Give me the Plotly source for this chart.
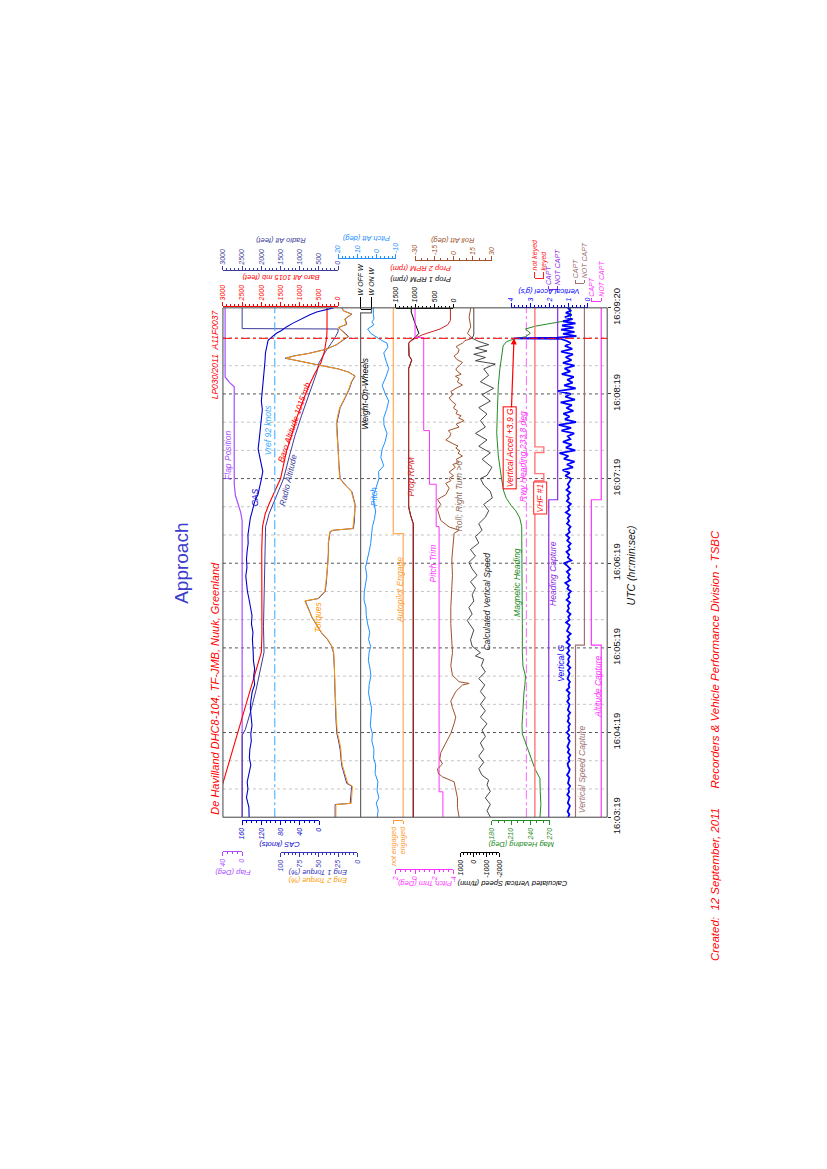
import plotly.graph_objects as go

# ---------------- values (t = seconds after 16:03:19) ----------------
TIME_TICKS = [0, 60, 120, 180, 240, 300, 361]
TIME_LABELS = ["16:03:19", "16:04:19", "16:05:19", "16:06:19", "16:07:19", "16:08:19", "16:09:20"]
EVENT_T = 339.4          # Vertical Accel +3.9 G
EVENT_G = 3.85
VREF_KT = 92
RWY_HDG = 233.8

BARO_ALT = [(0, 3260), (24, 3000), (40, 2830), (60, 2610), (90, 2290), (117, 2000), (130, 1985), (150, 1992),
            (170, 1996), (190, 1990), (206, 1970), (215, 1900), (222, 1800), (230, 1660), (240, 1500), (250, 1420),
            (260, 1340), (270, 1220), (283, 1080), (295, 920), (306, 760), (315, 600), (322, 450), (330, 360),
            (336, 316), (340, 300), (345, 292), (361, 290)]
RADIO_ALT = [(0, 2500), (58, 2500), (62, 2420), (75, 2280), (90, 2140), (105, 2030), (117, 1930), (135, 1945),
             (155, 1930), (175, 1925), (195, 1915), (206, 1890), (215, 1800), (225, 1650), (240, 1420), (255, 1280),
             (270, 1130), (285, 950), (300, 760), (315, 560), (322, 500), (330, 330), (336, 180), (340, 80),
             (344, 5), (346, 0), (346.3, 2500), (361, 2500)]
CAS_KT = [(0, 145.5), (7, 146), (14, 151), (20, 148), (25, 149.5), (31, 145), (37, 142), (42, 145), (48, 144),
          (54, 141), (59, 142), (65, 139.5), (71, 141), (77, 143), (82, 142), (89, 139), (94, 134), (100, 136),
          (105, 134), (111, 136.5), (117, 137), (126, 138.6), (131, 137.5), (137, 140.6), (143, 139.5), (149, 142),
          (155, 146), (160, 149), (166, 151), (171, 152.4), (177, 150), (183, 151), (189, 149.5), (194, 147.5),
          (200, 148), (206, 146), (212, 143), (217, 139), (224, 133.7), (229, 126.8), (234, 123), (240, 119.8),
          (245, 117), (249, 119.8), (255, 123), (261, 126.8), (266, 125), (272, 123), (278, 121), (284, 120),
          (289, 118), (295, 120), (300, 118.5), (306, 116.4), (312, 115), (318, 113), (323, 112.5), (329, 111.5),
          (334, 109), (338, 106), (341, 96), (343, 88.6), (345, 78), (347.5, 67.9), (350, 55), (352, 43.6),
          (354, 33), (356, 20), (358, 5), (361, -30)]
FLAP_DEG = [(0, 0), (210, 0), (216, 3), (222, 9), (228, 14), (236, 16.5), (305, 16.5), (308, 26), (312, 35.5),
            (361, 35.5)]
TORQUE_ENG1 = [(0, 29), (9, 29), (9.8, 9.5), (16, 8.5), (22, 7.4), (24, 13.9), (30, 17), (36.6, 20.4), (42, 21.5),
               (48, 22.5), (54, 24.5), (59.4, 26.8), (70, 28), (82, 29), (94, 29.5), (105, 29.9), (116.6, 31.2),
               (121, 33.3), (126, 39), (130.3, 46.3), (136, 53), (141.7, 59.3), (147, 63), (150.9, 65.8),
               (153.2, 67.9), (155, 50.6), (160, 42), (166, 40.5), (171.4, 39.8), (177, 38.5), (182.9, 37.7),
               (189, 37.5), (194.3, 37.7), (202.3, 35.5), (203.4, 31.2), (204.6, 5.2), (210, 4), (217, 3),
               (221.7, 3), (226, 5), (230.9, 7.4), (235, 15), (240, 22.5), (250, 24), (260.6, 24.7), (270, 26),
               (279, 26.9), (285, 25), (290.3, 22.5), (297.2, 16), (303, 11), (308.6, 7.4), (312.7, 3),
               (315.5, 11.7), (317.7, 24.7), (320.5, 50.6), (322.5, 68), (324.1, 81), (325.3, 94), (326.9, 83),
               (328.7, 63.6), (331.5, 42), (334.9, 26.9), (338.3, 18.2), (340.6, 11.7), (343, 16), (345.2, 20.4),
               (347, 24.7), (349.3, 13.9), (351, 15), (353.2, 16), (356.6, 7.4), (358.9, 18.2), (361, 20)]
TORQUE_ENG2 = [(0, 28), (9, 28), (9.8, 8), (16, 7.5), (22, 6.5), (24, 12.5), (30, 16), (36.6, 19.5), (42, 21),
               (48, 21.5), (54, 23.5), (59.4, 26), (70, 27.5), (82, 28.5), (94, 29), (105, 29.5), (116.6, 30.8),
               (121, 33), (126, 38.5), (130.3, 46), (136, 52.5), (141.7, 59), (147, 63.5), (150.9, 66.5),
               (153.2, 68.5), (155, 51.5), (160, 42.5), (166, 41), (171.4, 40), (177, 39), (182.9, 38),
               (189, 38), (194.3, 38), (202.3, 36), (203.4, 32), (204.6, 6), (210, 4.5), (217, 3.5),
               (221.7, 3.5), (226, 5.5), (230.9, 8), (235, 15.5), (240, 23), (250, 24.5), (260.6, 25), (270, 26.5),
               (279, 27.5), (285, 25.5), (290.3, 23), (297.2, 16.5), (303, 11.5), (308.6, 8), (312.7, 3.5),
               (315.5, 12), (317.7, 25), (320.5, 51), (322.5, 69), (324.1, 82), (325.3, 93), (326.9, 82),
               (328.7, 63), (331.5, 41), (334.9, 27.5), (338.3, 19), (340.6, 12.5), (343, 17), (345.2, 21),
               (347, 25), (349.3, 14.5), (351, 15.5), (353.2, 16.5), (356.6, 8), (358.9, 18.5), (361, 20.5)]
PITCH_ATT = [(0, -0.3), (5, -0.8), (10, 0.2), (13.7, -1.2), (19, -0.2), (25, -0.7), (31, 0.8), (37, 0.5),
             (42, 1.6), (48, 1.4), (54, 2.5), (59, 2.2), (65, 3.3), (71, 3.1), (77, 2.6), (82, 3.4), (88, 4.2),
             (94, 3.9), (100, 3.0), (105, 3.4), (111, 4.3), (117, 3.9), (121, 3.1), (126, 4.2), (131, 3.6),
             (137, 4.7), (143, 5.4), (149, 5.6), (154, 6.6), (160, 6.4), (166, 5.6), (171, 5.1), (177, 5.8),
             (183, 4.7), (189, 3.8), (194, 3.1), (200, 2.6), (206, 2.2), (211, 1.2), (217, 0.5), (223, 1.6),
             (229, 1.4), (234, 0.2), (240, -1.2), (245, -1.0), (249, -3.7), (255, -2.2), (261, -2.9), (266, -4.4),
             (272, -5.4), (278, -3.8), (283, -3.7), (289, -5.2), (295, -6.3), (300, -4.5), (306, -2.9),
             (312, -4.8), (318, -6.3), (323, -5.0), (329, -3.7), (333, -5.8), (336, -5.4), (338, -2.5),
             (340, -0.3), (343, 3.1), (346, 4.7), (349, 1.4), (351, 2.5), (353, 1.4), (357, 1.7), (361, 1.7)]
WOW_STATE = [(0, 1), (357.5, 0), (361, 0)]            # 1 = W OFF W, 0 = W ON W
AP_STATE = [(0, 1), (201, 0), (361, 0)]               # 1 = engaged, 0 = not engaged
PROP1_RPM = [(0, 1045), (208, 1045), (214, 1115), (220, 1165), (318, 1165), (321, 1115), (324, 1085),
             (327, 1155), (336, 1165), (338, 1100), (340, 1000), (343, 900), (346, 950), (350, 1000),
             (354, 1050), (358, 1100), (361, 1100)]
PROP2_RPM = [(0, 1050), (208, 1050), (214, 1120), (220, 1170), (318, 1170), (321, 1120), (324, 1090),
             (327, 1160), (336, 1170), (338, 1080), (340, 960), (342, 800), (344, 600), (346, 350),
             (349, 150), (352, 80), (361, 80)]
PITCH_TRIM = [(0, -2.9), (18, -2.5), (206, -2.2), (236, -1.5), (274, -0.9), (340, 0.0), (361, 0.0)]
ROLL_ATT = [(0, 4.4), (6.9, 3.1), (13.7, 3.1), (20.6, 1.8), (25.1, 0.5), (28.6, -8.6), (30.9, -11.7),
            (34.3, -12.5), (37.7, -8.6), (41.1, -10.7), (45.7, -9.9), (52.6, -6), (59.4, -2.1), (66.3, 0.5),
            (70.9, 1.8), (77.7, -0.8), (82.3, -2.1), (89.1, 1.8), (93.7, 7), (94.8, 12.2), (96, 4.4),
            (100.6, -0.8), (107.4, -2.1), (116.6, -0.8), (125.7, -1.3), (137.1, -2.1), (148.6, -2.1),
            (160, -1.3), (171.4, -0.8), (182.9, -1.3), (194.3, -0.3), (201.2, 0.5), (203.4, 4.4),
            (205.7, -3.4), (210.3, -9.9), (214.9, -11.2), (218.3, -12.5), (221.7, -9.9), (225.2, -12.5),
            (228.6, -6), (233.2, -3.4), (236.6, -6), (238.5, -2), (240, -3.5), (242, 0), (244.6, -3.4),
            (246.5, -1), (248, 1.5), (250, -0.5), (251.4, 4.4), (253.5, 2), (256, 7), (258, 3.5), (259.5, 5),
            (261.7, 1.8), (263, 3.5), (265, -1), (267.4, -6), (269.5, -3), (272, -2.1), (274, -4), (276.5, 4.4),
            (278.5, 2), (281.1, 8.3), (283, 4), (284.5, 6), (286, 2), (288, 3.1), (290, 0), (292.6, 1.8),
            (294.5, -1), (297.2, -3.4), (299.5, -0.5), (301.7, -2.1), (304, 2), (306.3, 7), (308.5, 3),
            (310.9, 4.4), (312.5, 1.5), (314, 6), (316, 3), (317.7, 1.8), (320, 4.5), (322.3, 7), (324.5, 2.5),
            (326.9, 0.5), (329, 3.5), (331.5, 4.4), (333.5, 2), (336, 7), (337.8, 9), (339.5, 14.8),
            (342.9, 10.9), (347.5, 13.5), (354.3, 12.2), (361, 13.5)]
CALC_VS = [(0, -1308), (4.6, -1050), (9.1, -1308), (13.7, -923), (18.3, -1308), (22.9, -1050), (26.3, -1180),
           (29.7, -667), (34.3, -410), (38.9, -795), (43.4, -410), (48, -795), (52.6, -538), (57.1, -923),
           (61.7, -667), (66.3, -1050), (70.9, -538), (75.4, -923), (80, -538), (84.6, -923), (89.1, -538),
           (93.7, -872), (98.3, -410), (102.9, -923), (107.4, -615), (112, -795), (114.3, -154), (116.6, -538),
           (121.2, 103), (125.7, 231), (132.6, -25), (139.4, 487), (144, 103), (148.6, 359), (153.2, -25),
           (157.7, 103), (162.3, -154), (166.9, 231), (171.4, -282), (176, 103), (180.6, 359), (185.1, -154),
           (189.7, 231), (194.3, -410), (198.9, -154), (203.4, -667), (208, -410), (212.6, -923),
           (217.2, -1180), (221.7, -795), (226.3, -1462), (230.9, -1308), (235.4, -795), (240, -538),
           (242.3, -1050), (248, -1436), (253.7, -667), (258.3, -1308), (262.9, -410), (267.4, -1050),
           (272, -154), (276.5, -923), (281.1, -538), (285.7, -1050), (290.3, -410), (294.9, -1308),
           (299.4, -667), (304, -1564), (308.6, -538), (313.2, -1180), (317.7, -795), (321.2, -1692),
           (323.5, -154), (325.8, -923), (328.1, -25), (330.4, -1050), (332.6, -154), (334.9, -1180),
           (337.2, -410), (339.5, 103), (341.8, -25), (361, -25)]
MAG_HDG = [(0, 255), (9, 256.5), (18, 255.5), (27.4, 255), (34, 247.5), (43, 240), (52, 232.5), (59, 227.5),
           (65, 227), (71, 227.5), (82, 228.5), (88, 230), (94, 231.5), (100, 232.5), (107, 228.5),
           (117, 227.5), (137, 227.5), (160, 227.5), (183, 226.5), (200, 227.5), (206, 226.5), (212, 223.5),
           (217, 217.5), (221, 210), (226, 202.5), (231, 198.5), (240, 195), (256, 190), (272, 187.5),
           (288, 188.5), (306, 190), (318, 192.5), (329, 196.5), (334, 197.5), (337, 202.5), (339, 215),
           (340.5, 232.5), (343, 240), (346, 232.5), (348, 247.5), (350, 272.5), (352, 297.5), (354, 302.5),
           (361, 302.5)]
VHF1_KEY = [(0, 0), (238.5, 1), (243.5, 0), (258.5, 1), (262.5, 0), (361, 0)]    # 1 = keyed
VG_STEP = 2
VG_G = [1.03, 0.97, 1.06, 0.99, 0.94, 1.05, 1.01, 0.96, 1.08, 0.98,
        1.02, 0.93, 1.04, 1.00, 0.97, 1.09, 0.99, 0.95, 1.03, 1.06,
        0.96, 1.01, 0.92, 1.05, 0.98, 1.07, 1.00, 0.95, 1.04, 0.97,
        1.10, 0.98, 1.02, 0.94, 1.06, 0.99, 1.03, 0.93, 1.05, 1.00,
        0.96, 1.08, 0.98, 1.03, 0.95, 1.11, 0.97, 1.01, 0.94, 1.06,
        1.00, 0.96, 1.04, 0.92, 1.07, 0.99, 1.03, 0.95, 1.09, 0.98,
        1.04, 0.94, 1.12, 0.97, 1.06, 0.90, 1.09, 1.00, 0.95, 1.14,
        0.96, 1.03, 0.91, 1.08, 0.99, 1.05, 0.93, 1.11, 0.97, 1.02,
        0.89, 1.07, 1.00, 1.18, 0.93, 1.04, 0.96, 1.10, 0.92, 1.06,
        1.24, 0.87, 1.05, 0.98, 1.12, 0.94, 1.03, 0.90, 1.08, 0.97,
        1.13, 0.95, 1.01, 0.91, 1.09, 0.98, 1.06, 0.93, 1.15, 0.96,
        1.04, 0.89, 1.10, 0.99, 1.07, 0.92, 1.12, 0.97, 1.05, 0.94,
        0.88, 1.18, 0.95, 1.32, 0.78, 1.10, 0.70, 1.25, 1.02, 1.48,
        0.66, 1.15, 0.85, 1.30, 0.92, 1.05, 0.72, 1.38, 0.88, 1.52,
        0.62, 1.20, 0.96, 1.28, 0.76, 1.12, 0.84, 1.42, 0.68, 1.18,
        0.90, 1.56, 0.64, 1.24, 0.80, 1.08, 0.74, 1.36, 0.92, 1.22,
        0.70, 1.30, 0.86, 1.16, 0.78, 1.40, 0.82, 1.20, 0.90]
VG_G_LANDING = [(337.5, 1.1), (339, 1.4), (339.4, 3.85), (339.8, 1.6), (341, 0.6), (342.5, 1.3), (344, 0.7),
                (345.5, 1.4), (347, 0.75), (348.5, 1.35), (350, 0.65), (351.5, 1.3), (353, 0.8), (354.5, 1.2),
                (356, 0.85), (357.5, 1.15), (359, 0.9), (361, 1.05)]
HDG_CAPT = [(0, 1), (225, 0), (361, 0)]    # 1 = CAPT
VS_CAPT = [(0, 1), (122, 0), (361, 0)]
ALT_CAPT = [(0, 0), (122, 1), (225, 0), (361, 0)]

WOW_LABELS = ["W OFF W", "W ON W"]
AP_LABELS = ["not engaged", "engaged"]
VHF_LABELS = ["not keyed", "keyed"]
CAPT_LABELS = ["CAPT", "NOT CAPT"]

# ---------------- geometry ----------------
FONT = "Liberation Sans, Arial, sans-serif"
W, H = 827, 1169
FX0, FX1, FY0, FY1 = 213.0, 601.0, 289.0, 815.0
T_END = 361.0
DIV = (FX1 - FX0) / 20.0


def fx(p):
    return p / W


def fy(p):
    return 1.0 - p / H


def dv(d):
    return FX0 + DIV * d


# scale definitions: (value_a, px_a, value_b, px_b)
SC = {
    'flap': (40, dv(0), 0, dv(1)),
    'alt': (3000, dv(0), 0, dv(6)),
    'cas': (160, dv(1), 0, dv(5)),
    'torque': (100, dv(3), 0, dv(7)),
    'pitch': (20, dv(6), -10, dv(9)),
    'wow': (1, 352, 0, 363),
    'ap': (0, 385, 1, 395),
    'prop': (1500, dv(9), 0, dv(12)),
    'trim': (2, dv(9), -4, dv(12)),
    'roll': (-30, dv(10), 30, dv(14)),
    'vs': (1000, 453, -2000, 492),
    'hdg': (180, dv(14), 270, dv(17)),
    'vhf': (0, 528, 1, 537),
    'hdgcap': (1, 542, 0, 551),
    'vscap': (1, 569, 0, 578),
    'altcap': (1, 585, 0, 595),
    'vg': (4, dv(15), 0, dv(19)),
}
ORDER = ['flap', 'alt', 'cas', 'torque', 'pitch', 'wow', 'ap', 'prop', 'trim', 'roll', 'vs', 'hdg', 'vhf',
         'hdgcap', 'vscap', 'altcap', 'vg']
AXES = {k: 'x%d' % (i + 2) for i, k in enumerate(ORDER)}


def val_at(key, px):
    va, pa, vb, pb = SC[key]
    return va + (px - pa) * (vb - va) / (pb - pa)


fig = go.Figure()
layout = dict(width=W, height=H, margin=dict(l=0, r=0, t=0, b=0), paper_bgcolor='white',
              plot_bgcolor='rgba(0,0,0,0)', showlegend=False, font=dict(family=FONT))

FRAME_DOM = [fx(FX0), fx(FX1)]
layout['xaxis'] = dict(domain=FRAME_DOM, range=[0, 20], tickmode='linear', tick0=0, dtick=1,
                       showgrid=True, gridcolor='#b8b8b8', griddash='dot', gridwidth=1, showticklabels=False,
                       ticks='', zeroline=False, showline=False, anchor='y', fixedrange=True)
layout['yaxis'] = dict(domain=[fy(FY1), fy(FY0)], range=[0, T_END], anchor='x', side='right',
                       tickmode='array', tickvals=TIME_TICKS, ticktext=TIME_LABELS, tickangle=-90,
                       ticks='outside', ticklen=3, tickcolor='#333', ticklabelstandoff=-3,
                       tickfont=dict(family=FONT, size=9.5, color='#111'),
                       showgrid=False, zeroline=False, showline=False, fixedrange=True)
layout['yaxis2'] = dict(domain=[fy(FY1), fy(FY0)], range=[0, 1], visible=False, anchor='free', position=0,
                        fixedrange=True)
for k in ORDER:
    layout['xaxis' + AXES[k][1:]] = dict(overlaying='x', anchor='y', domain=FRAME_DOM,
                                         range=[val_at(k, FX0), val_at(k, FX1)],
                                         visible=False, fixedrange=True)


def add_series(key, data, color, width=1.0, shape='linear', dash='solid'):
    t = [a for a, b in data]
    v = [b for a, b in data]
    fig.add_trace(go.Scatter(x=v, y=t, xaxis=AXES[key], yaxis='y', mode='lines',
                             line=dict(color=color, width=width, shape=shape, dash=dash),
                             hoverinfo='skip', showlegend=False))


# ---------------- data traces ----------------
add_series('flap', FLAP_DEG, '#a64dff', 1.2)
add_series('alt', RADIO_ALT, '#3c3c9c', 1.0)
add_series('alt', BARO_ALT, '#ff0000', 1.1)
add_series('cas', [(0, VREF_KT), (T_END, VREF_KT)], '#33aaff', 1.0, dash='dashdot')
add_series('cas', CAS_KT, '#0000cc', 1.1)
add_series('torque', TORQUE_ENG1, '#3333bb', 1.0)
add_series('torque', TORQUE_ENG2, '#ff9900', 1.0)
add_series('pitch', PITCH_ATT, '#1e90ff', 1.0)
add_series('wow', WOW_STATE, '#666666', 1.2, shape='vh')
add_series('ap', AP_STATE, '#ffaa55', 1.2, shape='vh')
add_series('prop', PROP1_RPM, '#000000', 1.0)
add_series('prop', PROP2_RPM, '#cc2222', 1.0)
add_series('trim', PITCH_TRIM, '#ff33ff', 1.0, shape='vh')
add_series('roll', ROLL_ATT, '#a0522d', 1.0)
add_series('vs', CALC_VS, '#333333', 0.9)
add_series('hdg', [(0, RWY_HDG), (T_END, RWY_HDG)], '#ff66ff', 1.0, dash='dashdot')
add_series('hdg', MAG_HDG, '#228b22', 1.0)
add_series('vhf', VHF1_KEY, '#ff7777', 1.4, shape='vh')
add_series('hdgcap', HDG_CAPT, '#8a2be2', 1.2, shape='vh')
add_series('vscap', VS_CAPT, '#a07070', 1.2, shape='vh')
add_series('altcap', ALT_CAPT, '#ff33ff', 1.2, shape='vh')
vg_pairs = [(i * VG_STEP, g) for i, g in enumerate(VG_G)] + VG_G_LANDING
add_series('vg', vg_pairs, '#0000ff', 1.8)

# ---------------- scale rulers ----------------
scale_n = [19]


def add_scale(key, pa, pb, pos, side, color, dtick=None, minor=None, tickvals=None, ticktext=None,
              ticklen=4, size=7):
    n = scale_n[0]
    scale_n[0] += 1
    ax = dict(domain=[fx(pa), fx(pb)], range=[val_at(key, pa), val_at(key, pb)], anchor='free',
              position=fy(pos), side=side, showline=True, linecolor=color, linewidth=1, ticks='outside',
              ticklen=ticklen, tickwidth=1, tickcolor=color, tickangle=-90,
              tickfont=dict(family=FONT, size=size, color=color, style='italic'),
              showgrid=False, zeroline=False, fixedrange=True)
    if tickvals is not None:
        ax.update(tickmode='array', tickvals=tickvals, ticktext=ticktext)
    else:
        ax.update(tickmode='linear', tick0=0, dtick=dtick)
    if minor:
        ax['minor'] = dict(ticks='outside', ticklen=2, tickcolor=color, tickwidth=1, tickmode='linear',
                           dtick=minor, tick0=0, showgrid=False)
    layout['xaxis%d' % n] = ax
    fig.add_trace(go.Scatter(x=[None], y=[None], xaxis='x%d' % n, yaxis='y2', mode='lines',
                             hoverinfo='skip', showlegend=False))


# top
add_scale('alt', dv(0), dv(6), 287, 'top', '#ff0000', dtick=500, minor=100)
add_scale('alt', dv(0), dv(6), 250, 'top', '#3c3c9c', dtick=500, minor=100)
add_scale('pitch', dv(6), dv(9), 238, 'top', '#1e90ff', minor=2,
          tickvals=[20, 10, 0, -10], ticktext=['20', '10', '0', '-10'])
add_scale('wow', 352, 363, 290, 'top', '#000000', tickvals=[1, 0], ticktext=WOW_LABELS, ticklen=12)
add_scale('prop', dv(9), dv(12), 289, 'top', '#000000', dtick=500, minor=100)
add_scale('roll', dv(10), dv(14), 240, 'top', '#a0522d', minor=5,
          tickvals=[-30, -15, 0, 15, 30], ticktext=['-30', '-15', '0', '15', '30'])
add_scale('vhf', 528, 537, 258, 'top', '#ff2020', tickvals=[0, 1], ticktext=VHF_LABELS, ticklen=6)
add_scale('hdgcap', 542, 551, 270, 'top', '#8a2be2', tickvals=[1, 0], ticktext=CAPT_LABELS, ticklen=3)
add_scale('vg', dv(15), dv(19), 288, 'top', '#0000ff', dtick=1, minor=0.2)
add_scale('vscap', 569, 578, 263, 'top', '#a07070', tickvals=[1, 0], ticktext=CAPT_LABELS, ticklen=3)
add_scale('altcap', 585, 595, 282, 'top', '#ff33ff', tickvals=[1, 0], ticktext=CAPT_LABELS, ticklen=3)
# bottom
add_scale('cas', dv(1), dv(5), 818, 'bottom', '#0000cc', dtick=40, minor=10)
add_scale('hdg', dv(14), dv(17), 818, 'bottom', '#228b22', dtick=30, minor=10)
add_scale('ap', 385, 395, 818, 'bottom', '#ff9a30', tickvals=[0, 1], ticktext=AP_LABELS, ticklen=3)
add_scale('flap', dv(0), dv(1), 850, 'bottom', '#a64dff', dtick=40, minor=10)
add_scale('torque', dv(3), dv(7), 851, 'bottom', '#3333bb', dtick=25, minor=5)
add_scale('trim', dv(9), dv(12), 868, 'bottom', '#ff33ff', minor=0.5,
          tickvals=[2, 0, -2, -4], ticktext=['2', '0', '-2', '-4'])
add_scale('vs', 453, 492, 851, 'bottom', '#000000', minor=250,
          tickvals=[1000, 0, -1000, -2000], ticktext=['1000', '0', '-1000', '-2000'])

# ---------------- grid, frame, event ----------------
shapes = []
for t in [20, 40, 80, 100, 140, 160, 200, 220, 260, 280, 320, 340]:
    shapes.append(dict(type='line', xref='paper', yref='y', x0=fx(FX0), x1=fx(FX1), y0=t, y1=t,
                       line=dict(color='#c4c4c4', width=1, dash='dot'), layer='below'))
for t in TIME_TICKS[1:-1]:
    shapes.append(dict(type='line', xref='paper', yref='y', x0=fx(FX0), x1=fx(FX1), y0=t, y1=t,
                       line=dict(color='#555555', width=1, dash='dot'), layer='below'))
shapes.append(dict(type='rect', xref='paper', yref='paper', x0=fx(FX0), x1=fx(FX1), y0=fy(FY1), y1=fy(FY0),
                   line=dict(color='#444444', width=1), layer='above'))
shapes.append(dict(type='line', xref='paper', yref='y', x0=fx(FX0), x1=fx(FX1), y0=EVENT_T, y1=EVENT_T,
                   line=dict(color='#ff0000', width=1, dash='dashdot'), layer='above'))
layout['shapes'] = shapes

# ---------------- text ----------------
ann = []


def txt(s, x, y, color, size=8.5, angle=-90, italic=True, xanchor='center', yanchor='middle', **kw):
    d = dict(text=s, x=fx(x), y=fy(y), xref='paper', yref='paper', showarrow=False, textangle=angle,
             xanchor=xanchor, yanchor=yanchor,
             font=dict(family=FONT, size=size, color=color, style='italic' if italic else 'normal'))
    d.update(kw)
    ann.append(d)


txt("Approach", 171, 553, '#3b3bcc', size=19, italic=False)
txt("De Havilland DHC8-104, TF-JMB, Nuuk, Greenland", 205, 815, '#ff0000', size=11, yanchor='bottom')
txt("LP030/2011&nbsp;&nbsp;A11F0037", 205, 290, '#ff0000', size=8.5, yanchor='top')
txt("UTC (hr:min:sec)", 625, 555, '#111111', size=10.5)
txt("Recorders &amp; Vehicle Performance Division - TSBC", 710, 652, '#ff0000', size=11.5)
txt("Created:&nbsp; 12 September, 2011", 710, 885, '#ff0000', size=11.5)

# scale titles (upside down)
txt("Baro Alt 1015 mb (feet)", 271, 257, '#ff0000', size=7.5, angle=180)
txt("Radio Alt (feet)", 271, 220, '#3c3c9c', size=7.5, angle=180)
txt("Pitch Att (deg)", 358, 218, '#1e90ff', size=7.5, angle=180)
txt("Prop 1 RPM (rpm)", 413, 259, '#000000', size=7.5, angle=180)
txt("Prop 2 RPM (rpm)", 413, 249, '#ff0000', size=7.5, angle=180)
txt("Roll Att (deg)", 445, 220, '#a0522d', size=7.5, angle=180)
txt("Vertical Accel (g's)", 542, 272, '#0000ff', size=7.5, angle=180)
txt("CAS (knots)", 270, 843, '#0000cc', size=7.5, angle=180)
txt("Mag Heading (Deg)", 514, 843, '#228b22', size=7.5, angle=180)
txt("Flap (Deg)", 223, 872, '#a64dff', size=7.5, angle=180)
txt("Eng 1 Torque (%)", 309, 872, '#3333bb', size=7.5, angle=180)
txt("Eng 2 Torque (%)", 309, 881, '#ff9900', size=7.5, angle=180)
txt("Pitch Trim (Deg)", 416, 884, '#ff33ff', size=7.5, angle=180)
txt("Calculated Vertical Speed (ft/mn)", 505, 884, '#000000', size=7.5, angle=180)

# in-plot labels
txt("Flap Position", 218, 441, '#a64dff')
txt("CAS", 245, 485, '#0000cc')
txt("Vref 92 knots", 258, 415, '#33aaff')
txt("Baro Altitude 1015 mb", 285, 407, '#ff0000', angle=-71)
txt("Radio Altitude", 279, 467, '#3c3c9c', angle=-77)
txt("Torques", 309, 609, '#ff9900')
txt("Weight-On-Wheels", 356, 378, '#000000')
txt("Pitch", 365, 484, '#1e90ff')
txt("Autopilot Engage", 391, 580, '#ff9a30')
txt("Prop RPM", 403, 463, '#cc2222')
txt("Pitch Trim", 426, 553, '#ff33ff')
txt("Roll; Right Turn >0", 451, 483, '#8b6a5a')
txt("Calculated Vertical Speed", 480, 592, '#222222')
txt("Magnetic Heading", 510, 573, '#228b22')
txt("Rwy Heading 233.8 deg", 516, 443, '#ff33ff')
txt("VHF #1", 533, 485, '#ff2020', bordercolor='#ff2020', borderwidth=1, borderpad=1, bgcolor='white')
txt("Heading Capture", 546, 563, '#8a2be2')
txt("Vertical G", 555, 656, '#0000ff')
txt("Vertical Speed Capture", 575, 765, '#a07070')
txt("Altitude Capture", 592, 680, '#ff33ff')

ann.append(dict(text="Vertical Accel +3.9 G", x=EVENT_G, y=EVENT_T, xref=AXES['vg'], yref='y',
                showarrow=True, ax=-4, ay=110, arrowhead=2, arrowsize=1, arrowwidth=1.2, arrowcolor='#ff0000',
                textangle=-90, bordercolor='#ff0000', borderwidth=1, borderpad=1, bgcolor='white',
                font=dict(family=FONT, size=8.5, color='#ff0000', style='italic')))
layout['annotations'] = ann

fig.update_layout(**layout)
fig.write_html("out.html")
